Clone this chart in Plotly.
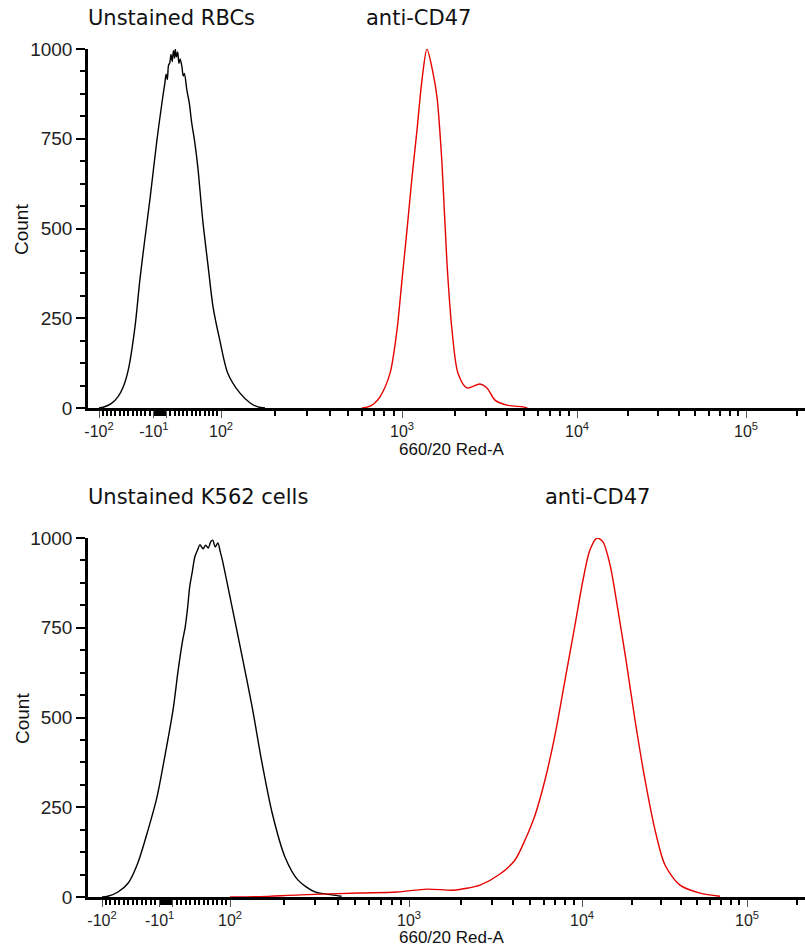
import numpy as np
import plotly.graph_objects as go

# ---------------- data (fluorescence intensity vs. count) ----------------
rbc_unst_x = [-100, -93, -80, -69, -60, -52, -41, -33, -25, -16, -5, 4, 8, 10, 12, 14, 16, 18, 20, 22, 24, 25,
              27, 29, 31, 33, 36, 38, 40, 44, 48, 52, 57, 62, 70, 79, 87, 98, 109, 127, 145, 160, 175]
rbc_unst_y = [0, 2, 12, 31, 60, 106, 226, 357, 468, 588, 747, 860, 905, 930, 915, 955, 961, 985, 965, 995, 975,
              1000, 978, 992, 960, 972, 950, 925, 932, 886, 850, 794, 740, 671, 524, 393, 281, 189, 97, 42, 14,
              3, 0]

rbc_cd47_x = [600, 649, 700, 756, 859, 938, 1000, 1068, 1141, 1218, 1301, 1389, 1504, 1585, 1692, 1807, 1931,
              2089, 2351, 2790, 3060, 3399, 3981, 4914, 5200]
rbc_cd47_y = [0, 3, 12, 31, 97, 217, 357, 496, 643, 774, 914, 1000, 933, 866, 682, 404, 217,
              97, 56, 67, 56, 22, 8, 3, 0]

k562_unst_x = [-100, -91, -75, -59, -44, -28, -14, -2, 11, 19, 26, 30, 34, 37, 41, 45, 49, 53, 58, 62, 66, 70,
               73, 77, 81, 85, 88, 100, 117, 133, 151, 172, 203, 240, 298, 371, 420]
k562_unst_y = [0, 2, 14, 39, 95, 187, 279, 390, 521, 632, 715, 752, 810, 864, 905, 947, 965, 981, 970, 980,
               972, 990, 994, 975, 986, 960, 939, 836, 669, 529, 373, 234, 111, 47, 14, 6, 2]

k562_cd47_x = [100, 147, 246, 532, 857, 1271, 1796, 2200, 2573, 3357, 4100, 4685, 5350, 6110, 6980, 7975,
               9113, 10140, 11180, 12330, 13400, 14790, 16520, 18480, 20950, 24100, 27700, 31850,
               39260, 51900, 68600]
k562_cd47_y = [0, 1, 6, 11, 14, 22, 19, 25, 33, 64, 103, 159, 228, 326, 451, 604,
               758, 883, 967, 1000, 989, 925, 799, 660, 493, 326, 187, 89,
               33, 11, 2]

# axis labels
tick_values = [-100, -10, 10, 100, 1000, 10000, 100000]
tick_text = ["-10<sup>2</sup>", "-10<sup>1</sup>", "", "10<sup>2</sup>", "10<sup>3</sup>",
             "10<sup>4</sup>", "10<sup>5</sup>"]
y_ticks = [0, 250, 500, 750, 1000]

# biexponential display scale: display position of -100, 0, 100, 1e3, 1e4, 1e5 per panel
top_scale = [99, 160, 221, 402, 577, 746]
bot_scale = [102, 166, 230, 409, 582, 747]


def biex(v, anchors):
    v = np.asarray(v, dtype=float)
    w = np.where(v > 100, 1 + np.log10(np.maximum(v, 100) / 100), v / 100)
    a = list(anchors)
    ws = [-3, -1, 0, 1, 2, 3, 4, 6]
    ps = [a[0] - 2 * (a[1] - a[0])] + a + [a[-1] + 2 * (a[-1] - a[-2])]
    return np.interp(w, ws, ps)


minor_vals = []
for d in [100, 1000, 10000]:
    minor_vals += [d * k for k in range(2, 10)]
minor_vals += [200000]
minor_vals += [s * m for s in (-1, 1) for m in range(17, 97, 7)]
minor_vals += list(range(-9, 10))

FONT = "Liberation Sans, Arial, sans-serif"
TFONT = "DejaVu Sans, Verdana, sans-serif"
W, H = 805, 947

fig = go.Figure()
panels = [
    ("x", "y", top_scale, rbc_unst_x, rbc_unst_y, rbc_cd47_x, rbc_cd47_y),
    ("x2", "y2", bot_scale, k562_unst_x, k562_unst_y, k562_cd47_x, k562_cd47_y),
]
for xa, ya, sc, bx, by, rx, ry in panels:
    fig.add_trace(go.Scatter(x=biex(bx, sc), y=by, mode="lines", xaxis=xa, yaxis=ya,
                             line=dict(color="black", width=1.4, shape="spline", smoothing=0.8),
                             showlegend=False))
    fig.add_trace(go.Scatter(x=biex(rx, sc), y=ry, mode="lines", xaxis=xa, yaxis=ya,
                             line=dict(color="rgb(230,0,0)", width=1.4, shape="spline", smoothing=0.8),
                             showlegend=False))


def xaxis_cfg(sc, anchor):
    return dict(domain=[88 / W, 1], range=[88, 805], anchor=anchor, automargin=False,
                showline=True, linewidth=2.5, linecolor="black", showgrid=False, zeroline=False,
                tickmode="array", tickvals=list(biex(tick_values, sc)), ticktext=tick_text,
                ticks="outside", ticklen=7, tickwidth=1, tickcolor="#555",
                tickfont=dict(family=FONT, size=16, color="#222"),
                minor=dict(tickmode="array", tickvals=list(biex(minor_vals, sc)), ticks="outside",
                           ticklen=5, tickwidth=1.5, tickcolor="black", showgrid=False))


def yaxis_cfg(anchor, top, bot):
    return dict(domain=[1 - bot / H, 1 - top / H], range=[0, 1000], anchor=anchor, automargin=False,
                showline=True, linewidth=2.5, linecolor="black", showgrid=False, zeroline=False,
                tickmode="array", tickvals=y_ticks, ticktext=[str(t) for t in y_ticks],
                ticks="outside", ticklen=9, tickwidth=1.5, tickcolor="black",
                tickfont=dict(family=FONT, size=19, color="#222"),
                minor=dict(tickmode="array", tickvals=[i * 62.5 for i in range(17) if i % 4],
                           ticks="outside", ticklen=5, tickwidth=1.5, tickcolor="black", showgrid=False))


fig.update_layout(
    width=W, height=H, margin=dict(l=0, r=0, t=0, b=0, autoexpand=False),
    paper_bgcolor="white", plot_bgcolor="white",
    xaxis=xaxis_cfg(top_scale, "y"),
    yaxis=yaxis_cfg("x", 49, 408),
    xaxis2=xaxis_cfg(bot_scale, "y2"),
    yaxis2=yaxis_cfg("x2", 538, 897),
)

ann = []
def txt(text, x, y, size, family, xanchor="center", angle=0):
    ann.append(dict(text=text, x=x / W, y=1 - y / H, xref="paper", yref="paper", showarrow=False,
                    xanchor=xanchor, yanchor="middle", textangle=angle,
                    font=dict(family=family, size=size, color="#111")))

txt("Unstained RBCs", 86, 18, 21, TFONT, "left")
txt("anti-CD47", 364, 18, 21, TFONT, "left")
txt("Unstained K562 cells", 86, 497, 21, TFONT, "left")
txt("anti-CD47", 543, 497, 21, TFONT, "left")
txt("Count", 22, 230, 19, FONT, angle=-90)
txt("Count", 22, 719, 19, FONT, angle=-90)
txt("660/20 Red-A", 452, 449, 17, FONT)
txt("660/20 Red-A", 452, 937, 17, FONT)
fig.update_layout(annotations=ann)

fig.write_html("out.html")
